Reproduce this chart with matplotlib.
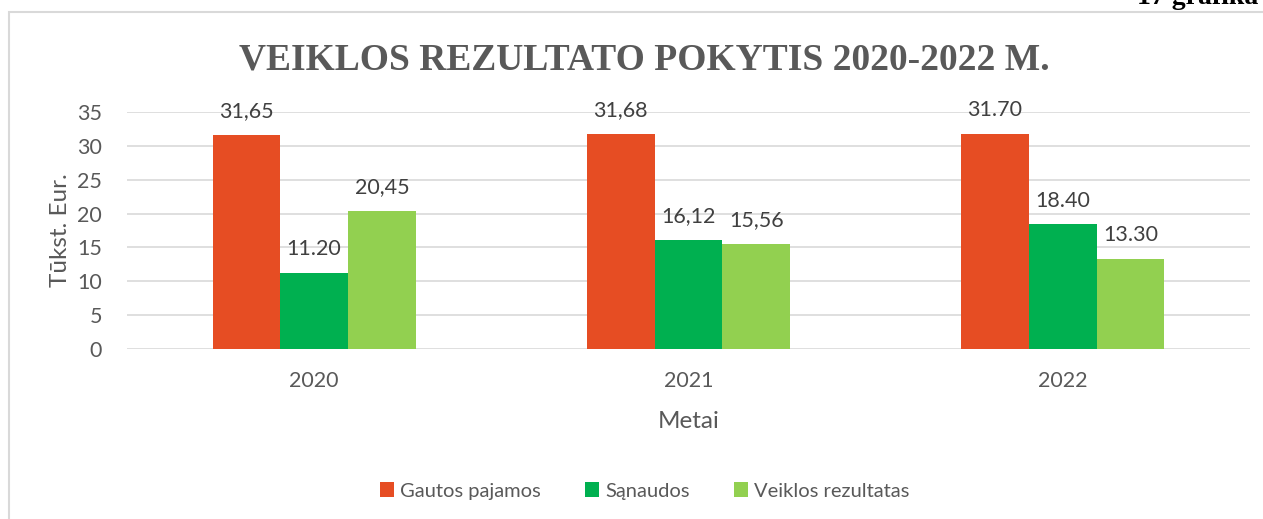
import matplotlib
matplotlib.use("Agg")
import matplotlib.pyplot as plt
import numpy as np
from matplotlib.patches import Rectangle

years = ["2020", "2021", "2022"]
series_names = ["Gautos pajamos", "Sąnaudos", "Veiklos rezultatas"]
gautos = [31.65, 31.68, 31.70]
sanaudos = [11.20, 16.12, 18.40]
rezultatas = [20.45, 15.56, 13.30]
label_gautos = ["31,65", "31,68", "31.70"]
label_sanaudos = ["11.20", "16,12", "18.40"]
label_rezultatas = ["20,45", "15,56", "13.30"]
colors = ["#E64D23", "#00B050", "#92D050"]
yticks = [0, 5, 10, 15, 20, 25, 30, 35]

plt.rcParams['font.family'] = ['Lato', 'DejaVu Sans']
txt = "#595959"

fig = plt.figure(figsize=(12.63, 5.19), dpi=100)
ax = fig.add_axes([127/1263, 1-349/519, 1123/1263, 237/519])

x = np.arange(len(years))
w = 0.181
vals = [gautos, sanaudos, rezultatas]
labs = [label_gautos, label_sanaudos, label_rezultatas]
for i, (v, lab) in enumerate(zip(vals, labs)):
    bars = ax.bar(x + (i - 1) * w, v, w, color=colors[i], label=series_names[i], zorder=3)
    for b, l in zip(bars, lab):
        ax.annotate(l, (b.get_x() + b.get_width() / 2, b.get_height()),
                    xytext=(0, 10), textcoords="offset points",
                    ha="center", va="bottom", fontsize=15.5, color="#404040")

ax.set_xlim(-0.5, 2.5)
ax.set_ylim(0, 35)
ax.set_yticks(yticks)
ax.set_xticks(x)
ax.set_xticklabels(years)
ax.yaxis.grid(True, color="#D9D9D9", linewidth=1.2, zorder=0)
ax.tick_params(axis="both", length=0, labelsize=15.5, labelcolor=txt)
ax.tick_params(axis="x", pad=15.5)
ax.tick_params(axis="y", pad=18)
for s in ax.spines.values():
    s.set_visible(False)
ax.set_xlabel("Metai", fontsize=17.5, color=txt, labelpad=15)
ax.set_ylabel("Tūkst. Eur.", fontsize=17.5, color=txt, labelpad=4)

fig.text(644/1263, 1 - 60/519, "VEIKLOS REZULTATO POKYTIS 2020-2022 M.", ha="center", va="center",
         fontsize=27, fontweight="bold", color=txt, family=["Liberation Serif", "DejaVu Serif"])

leg = ax.legend(loc="center", bbox_to_anchor=(645/1263, 1 - 491/519), bbox_transform=fig.transFigure,
                ncol=3, frameon=False, fontsize=14.5, handlelength=0.7, handleheight=0.7,
                handletextpad=0.3, columnspacing=2.2)
for t in leg.get_texts():
    t.set_color(txt)

fig.patches.append(Rectangle((9/1263, -0.1), 1.2, 1 - 12/519 + 0.1, transform=fig.transFigure,
                             fill=False, edgecolor="#D9D9D9", linewidth=1.5))
fig.text(1 - 5/1263, 1 - 4/519, "17 grafika", ha="right", va="baseline", fontsize=20,
         fontweight="bold", color="black", family=["Liberation Serif", "DejaVu Serif"])

fig.savefig("out.png", dpi=100)
